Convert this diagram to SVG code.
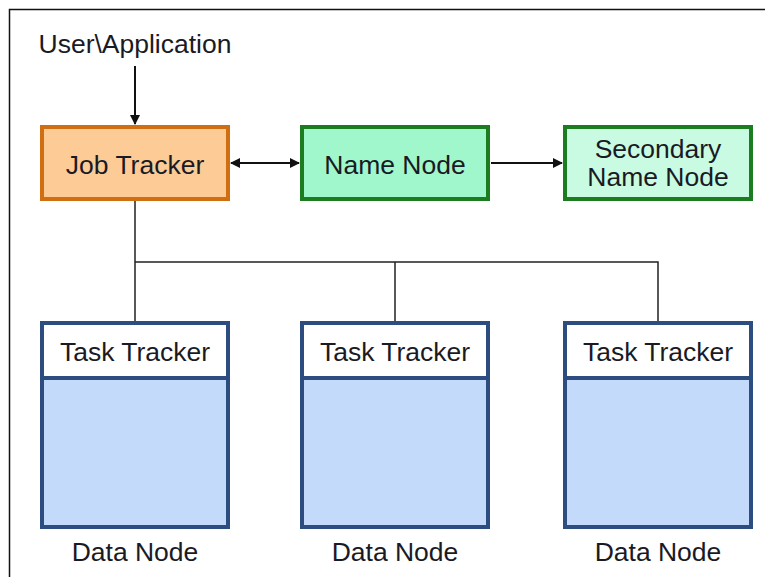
<svg xmlns="http://www.w3.org/2000/svg" width="765" height="577" viewBox="0 0 765 577">
<defs>
<marker id="ah" markerWidth="10" markerHeight="10" refX="9" refY="5" orient="auto-start-reverse" markerUnits="userSpaceOnUse">
<path d="M0,0 L10,5 L0,10 Z" fill="#111"/>
</marker>
<style>
text{font-family:"Liberation Sans",Arial,sans-serif;font-size:26.5px;fill:#1a1a24;text-anchor:middle}
.job{fill:#fdcb95;stroke:#cf6f12;stroke-width:4}
.nn{fill:#9ff7cb;stroke:#1b7d1f;stroke-width:4}
.snn{fill:#c9fbe3;stroke:#1b7d1f;stroke-width:4}
.dn{fill:#c3dafb;stroke:#2d4c80;stroke-width:4}
.hdr{fill:#ffffff;stroke:#2d4c80;stroke-width:4}
.ln{stroke:#222;stroke-width:1.5;fill:none}
.ar{stroke:#111;stroke-width:2;fill:none}
</style>
</defs>
<rect x="0" y="0" width="765" height="577" fill="#fff"/>
<path d="M9.5,577 V9.5 H765" fill="none" stroke="#111" stroke-width="1.5"/>
<text x="135" y="53">User\Application</text>
<g id="connectors">
<line class="ar" x1="135" y1="66" x2="135" y2="124" marker-end="url(#ah)"/>
<line class="ar" x1="231" y1="163" x2="299" y2="163" marker-start="url(#ah)" marker-end="url(#ah)"/>
<line class="ar" x1="491" y1="163" x2="562" y2="163" marker-end="url(#ah)"/>
<path class="ln" d="M135,201 V321 M135,262 H658 V321 M395,262 V321"/>
</g>
<g id="job-tracker">
<rect class="job" x="42" y="127" width="186" height="72"/>
<text x="135" y="174">Job Tracker</text>
</g>
<g id="name-node">
<rect class="nn" x="302" y="127" width="186" height="72"/>
<text x="395" y="174">Name Node</text>
</g>
<g id="secondary-name-node">
<rect class="snn" x="565" y="127" width="186" height="72"/>
<text x="658" y="158">Secondary</text>
<text x="658" y="186">Name Node</text>
</g>
<g id="data-node-1">
<rect class="dn" x="42" y="323" width="186" height="204"/>
<rect class="hdr" x="42" y="323" width="186" height="55"/>
<text x="135" y="361">Task Tracker</text>
<text x="135" y="561">Data Node</text>
</g>
<g id="data-node-2">
<rect class="dn" x="302" y="323" width="186" height="204"/>
<rect class="hdr" x="302" y="323" width="186" height="55"/>
<text x="395" y="361">Task Tracker</text>
<text x="395" y="561">Data Node</text>
</g>
<g id="data-node-3">
<rect class="dn" x="565" y="323" width="186" height="204"/>
<rect class="hdr" x="565" y="323" width="186" height="55"/>
<text x="658" y="361">Task Tracker</text>
<text x="658" y="561">Data Node</text>
</g>
</svg>
